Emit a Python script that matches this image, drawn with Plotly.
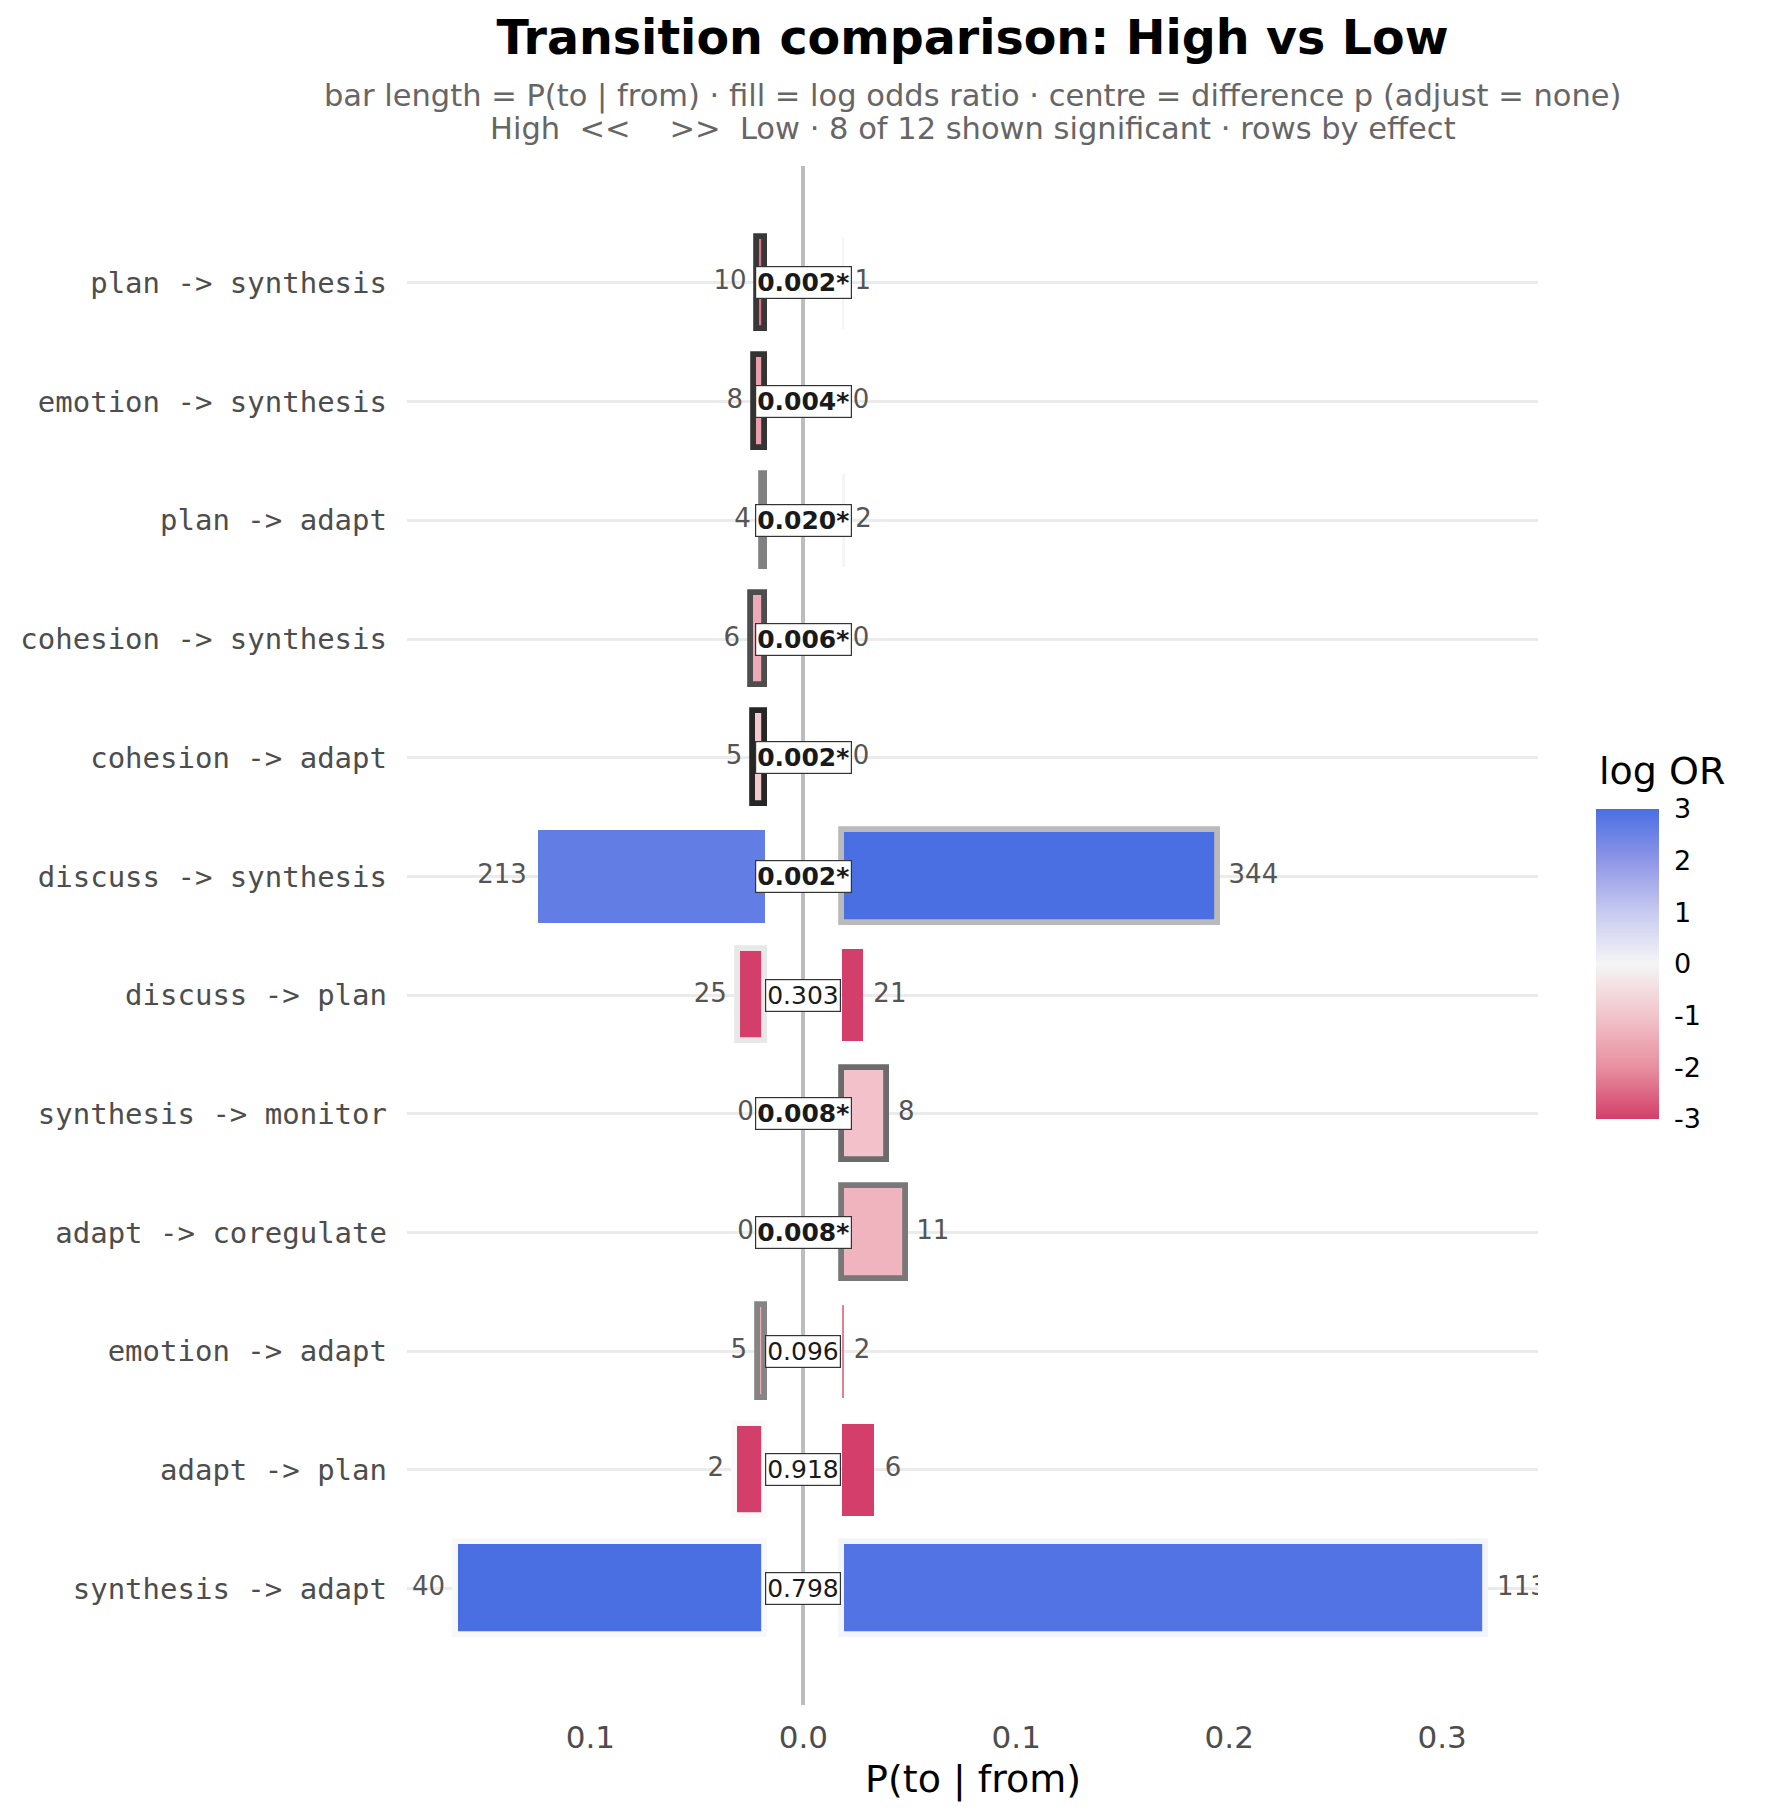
import plotly.graph_objects as go

# rows, top to bottom
rows = ["plan -> synthesis", "emotion -> synthesis", "plan -> adapt",
        "cohesion -> synthesis", "cohesion -> adapt", "discuss -> synthesis",
        "discuss -> plan", "synthesis -> monitor", "adapt -> coregulate",
        "emotion -> adapt", "adapt -> plan", "synthesis -> adapt"]

high_n = [10, 8, 4, 6, 5, 213, 25, 0, 0, 5, 2, 40]
low_n = [1, 0, 2, 0, 0, 344, 21, 8, 11, 2, 6, 113]

# P(to | from) per group
high_p = [0.0034, 0.0051, 0.0014, 0.0065, 0.0054, 0.1066, 0.0127, 0.0, 0.0, 0.0032, 0.014, 0.145]
low_p = [0.0008, 0.0, 0.0012, 0.0, 0.0, 0.1765, 0.0097, 0.0213, 0.0298, 0.0005, 0.0151, 0.3026]

# log odds ratio (fill)
high_lor = [-2.4, -1.75, -1.5, -1.5, -0.9, 2.65, -3.0, 0.0, 0.0, -1.5, -3.0, 3.0]
low_lor = [0.0, 0.0, 0.0, 0.0, 0.0, 3.0, -3.0, -1.05, -1.3, -2.2, -3.0, 2.9]

# difference p-values (centre labels)
p_diff = [0.002, 0.004, 0.020, 0.006, 0.002, 0.002, 0.303, 0.008, 0.008, 0.096, 0.918, 0.798]

# outline shades per bar (None = no outline)
high_edge = ["#383838", "#333333", "#808080", "#4d4d4d", "#262626", None,
             "#e8e8e8", None, None, "#858585", "#fafafa", "#f8f8f8"]
low_edge = [None, None, None, None, None, "#bababa",
            None, "#6b6b6b", "#787878", None, None, "#f3f5fd"]

cbar_ticks = [-3, -2, -1, 0, 1, 2, 3]

gap = 0.0182
pad = 0.005
edge_w = 5.8
font = "DejaVu Sans"

scale = [[0.0, "#d33f6a"], [1/6, "#e88fa0"], [2/6, "#f2c4cb"], [0.5, "#f5f5f5"],
         [4/6, "#c8caf0"], [5/6, "#8f96e6"], [1.0, "#4a6fe3"]]

fig = go.Figure()

fig.add_trace(go.Bar(
    y=rows, x=[-v for v in high_p], base=-gap, orientation="h", width=0.78,
    marker=dict(color=high_lor, coloraxis="coloraxis",
                line=dict(color=[e if e else "rgba(0,0,0,0)" for e in high_edge],
                          width=[edge_w if e else 0 for e in high_edge])),
    showlegend=False, name="High"))

fig.add_trace(go.Bar(
    y=rows, x=low_p, base=gap, orientation="h", width=0.78,
    marker=dict(color=low_lor, coloraxis="coloraxis",
                line=dict(color=[e if e else "rgba(0,0,0,0)" for e in low_edge],
                          width=[edge_w if e else 0 for e in low_edge])),
    showlegend=False, name="Low"))

# counts at the bar ends
fig.add_trace(go.Scatter(
    y=rows, x=[-gap - v - pad for v in high_p], text=[str(n) for n in high_n],
    mode="text", textposition="middle left", cliponaxis=True,
    textfont=dict(family=font, size=26, color="#555555"), showlegend=False))
fig.add_trace(go.Scatter(
    y=rows, x=[gap + v + pad for v in low_p], text=[str(n) for n in low_n],
    mode="text", textposition="middle right", cliponaxis=True,
    textfont=dict(family=font, size=26, color="#555555"), showlegend=False))

# p-value boxes in the centre
for r, p in zip(rows, p_diff):
    label = f"{p:.3f}"
    if p < 0.05:
        label = f"<b>{label}*</b>"
    fig.add_annotation(x=0, y=r, xref="x", yref="y", text=label, showarrow=False,
                       font=dict(family=font, size=25, color="#1a1a1a"),
                       bgcolor="white", bordercolor="#333333", borderwidth=1.2, borderpad=1)

n_sig = sum(1 for p in p_diff if p < 0.05)
sub1 = "bar length = P(to | from) · fill = log odds ratio · centre = difference p (adjust = none)"
sub2 = f"High  &lt;&lt;    &gt;&gt;  Low · {n_sig} of {len(rows)} shown significant · rows by effect"
for txt, yy in [(sub1, 1.0453), (sub2, 1.0242)]:
    fig.add_annotation(x=0.5, y=yy, xref="paper", yref="paper", text=txt, showarrow=False,
                       yanchor="middle", font=dict(family=font, size=30.5, color="#666666"))
fig.add_annotation(x=0.5, y=-0.0487, xref="paper", yref="paper", text="P(to | from)",
                   showarrow=False, yanchor="middle", font=dict(family=font, size=38, color="black"))
fig.add_annotation(x=1.052, y=0.6072, xref="paper", yref="paper", text="log OR",
                   showarrow=False, xanchor="left", yanchor="middle",
                   font=dict(family=font, size=38, color="black"))

fig.update_layout(
    width=1768, height=1820,
    margin=dict(l=395.5, r=238, t=158, b=123),
    paper_bgcolor="white", plot_bgcolor="white",
    barmode="overlay", bargap=0,
    font=dict(family=font),
    title=dict(text="<b>Transition comparison: High vs Low</b>", x=0.5, xref="paper",
               y=1 - 29 / 1820, yanchor="middle", font=dict(family=font, size=47.5, color="black")),
    coloraxis=dict(
        colorscale=scale, cmin=-3, cmax=3,
        colorbar=dict(
            thickness=63, thicknessmode="pixels", len=310, lenmode="pixels",
            x=1588 / 1768, xref="container", xanchor="left", xpad=0,
            y=1 - 1130.3 / 1820, yref="container", yanchor="middle", ypad=0,
            outlinewidth=0, tickvals=cbar_ticks, ticktext=[str(t) for t in cbar_ticks],
            ticks="outside", tickcolor="white", ticklen=10, tickwidth=1,
            tickfont=dict(family=font, size=27, color="black"))),
    xaxis=dict(range=[-0.1861, 0.345], tickvals=[-0.1, 0, 0.1, 0.2, 0.3],
               ticktext=["0.1", "0.0", "0.1", "0.2", "0.3"], showgrid=False,
               zeroline=True, zerolinecolor="#bdbdbd", zerolinewidth=4,
               ticks="", ticklabelstandoff=11,
               tickfont=dict(family=font, size=31, color="#4d4d4d")),
    yaxis=dict(categoryorder="array", categoryarray=rows, range=[11.98, -0.985],
               showgrid=True, gridcolor="#ebebeb", gridwidth=2.5, zeroline=False,
               ticks="", ticklabelstandoff=19,
               tickfont=dict(family="DejaVu Sans Mono", size=29, color="#4d4d4d")),
)

fig.write_html("out.html")
